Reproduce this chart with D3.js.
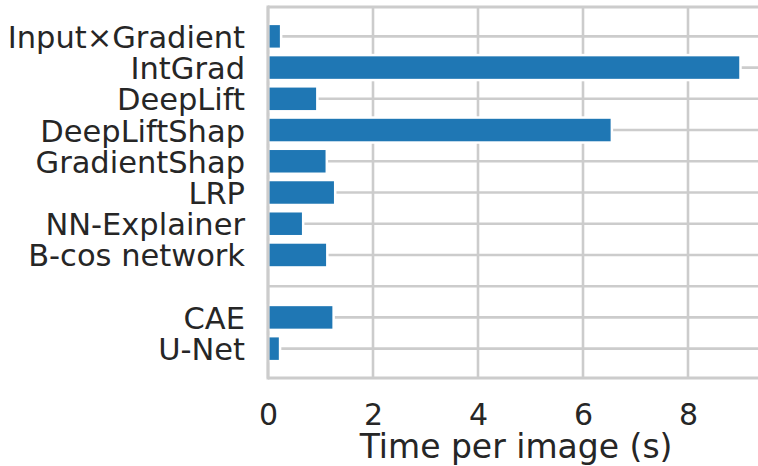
<!DOCTYPE html>
<html>
<head>
<meta charset="utf-8">
<script src="https://cdn.jsdelivr.net/npm/d3@7"></script>
<style>
  html, body { margin: 0; padding: 0; background: #fff; overflow: hidden; }
  svg { display: block; font-family: "DejaVu Sans", sans-serif; }
</style>
</head>
<body>
<svg id="chart" width="758" height="466"></svg>
<script>
// Methods in display order; the empty entry leaves a spacer row between groups.
const methods = ["Input×Gradient", "IntGrad", "DeepLift", "DeepLiftShap", "GradientShap",
                 "LRP", "NN-Explainer", "B-cos network", "", "CAE", "U-Net"];
// Seconds per image for each method (null for the spacer row).
const timePerImage = [0.25, 9.0, 0.94, 6.55, 1.12, 1.28, 0.67, 1.13, null, 1.25, 0.23];
const xTicks = [0, 2, 4, 6, 8];
const xLabel = "Time per image (s)";

const svg = d3.select("#chart");
const plot = { left: 268, top: 7, bottom: 378 };
const barHeight = 0.8;
const textColor = "#262626";
const gridColor = "#cccccc";

const xMax = d3.max(timePerImage) * 1.05;
const x = d3.scaleLinear().domain([0, xMax]).range([plot.left, plot.left + xMax * 52.5]);
const yPad = (methods.length - 1 + barHeight) * 0.05;
const y = d3.scaleLinear()
  .domain([-barHeight / 2 - yPad, methods.length - 1 + barHeight / 2 + yPad])
  .range([plot.top, plot.bottom]);

const right = x.range()[1];

// grid lines
const grid = svg.append("g");
grid.selectAll("line.vx").data(xTicks).join("line")
  .attr("x1", d => x(d)).attr("x2", d => x(d))
  .attr("y1", plot.top).attr("y2", plot.bottom)
  .attr("stroke", gridColor).attr("stroke-width", 2.6);
grid.selectAll("line.hy").data(methods.map((m, i) => i)).join("line")
  .attr("x1", plot.left).attr("x2", right)
  .attr("y1", d => y(d)).attr("y2", d => y(d))
  .attr("stroke", gridColor).attr("stroke-width", 2.6);

// bars
const rows = methods.map((m, i) => ({ name: m, idx: i, value: timePerImage[i] }))
  .filter(d => d.value != null);
svg.append("g").selectAll("rect").data(rows).join("rect")
  .attr("x", x(0))
  .attr("y", d => y(d.idx - barHeight / 2))
  .attr("width", d => x(d.value) - x(0))
  .attr("height", d => y(barHeight) - y(0))
  .attr("fill", "#1f77b4")
  .attr("stroke", "#ffffff")
  .attr("stroke-width", 2.5);

// spines
const spines = svg.append("g").attr("stroke", gridColor).attr("stroke-width", 3).attr("fill", "none");
spines.append("line").attr("x1", plot.left).attr("x2", plot.left).attr("y1", plot.top - 1.5).attr("y2", plot.bottom + 1.5);
spines.append("line").attr("x1", plot.left).attr("x2", right).attr("y1", plot.top).attr("y2", plot.top);
spines.append("line").attr("x1", plot.left).attr("x2", right).attr("y1", plot.bottom).attr("y2", plot.bottom);
spines.append("line").attr("x1", right).attr("x2", right).attr("y1", plot.top).attr("y2", plot.bottom);

// y tick labels
const yAxis = d3.axisLeft(y).tickValues(methods.map((m, i) => i))
  .tickFormat(i => methods[i]).tickSize(0).tickPadding(23);
const gy = svg.append("g").attr("transform", `translate(${plot.left},0)`).call(yAxis);
gy.select(".domain").remove();
gy.selectAll("text").attr("font-size", 30.5).attr("fill", textColor)
  .attr("font-family", "DejaVu Sans").attr("dy", "0.36em");

// x tick labels
const xAxis = d3.axisBottom(x).tickValues(xTicks).tickFormat(d3.format("d")).tickSize(0).tickPadding(0);
const gx = svg.append("g").attr("transform", `translate(0,${plot.bottom})`).call(xAxis);
gx.select(".domain").remove();
gx.selectAll("text").attr("font-size", 30).attr("fill", textColor)
  .attr("font-family", "DejaVu Sans").attr("dy", null).attr("y", 47);

// x axis title
svg.append("text")
  .attr("x", (plot.left + right) / 2).attr("y", 458)
  .attr("text-anchor", "middle")
  .attr("font-size", 33).attr("fill", textColor)
  .text(xLabel);
</script>
</body>
</html>
